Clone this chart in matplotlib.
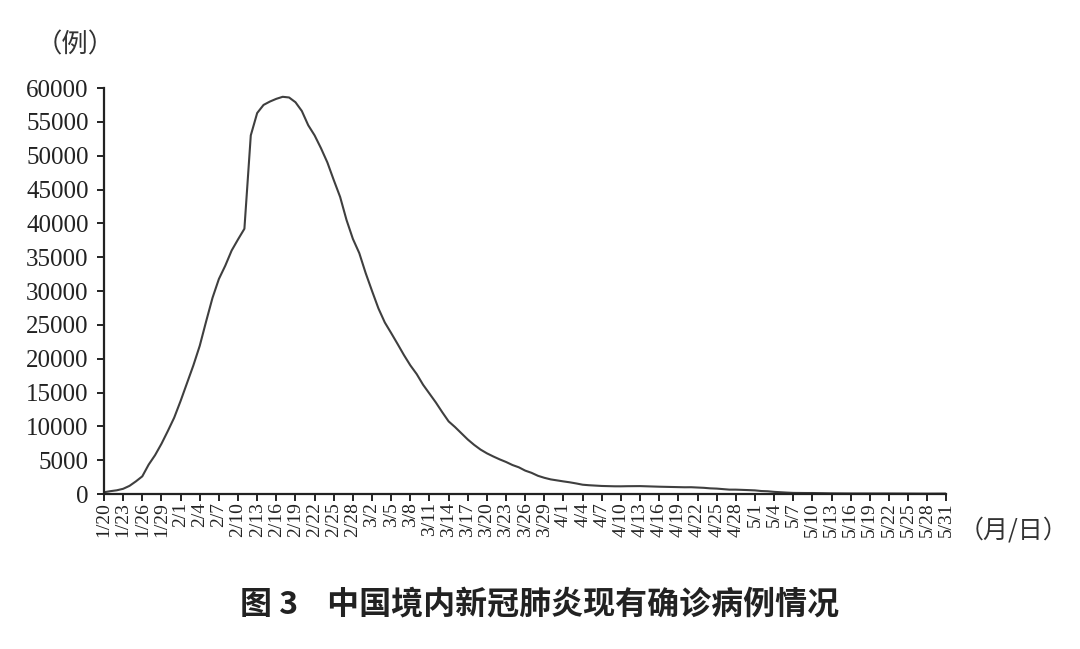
import matplotlib.pyplot as plt
import pandas as pd

# daily existing confirmed cases, 1/20 - 5/31
jan = [260, 421, 549, 771, 1208, 1870, 2613, 4349, 5739, 7417, 9308, 11289]
feb = [13748, 16369, 19000, 21900, 25500, 28985, 31774, 33738, 35982, 37626, 39200,
       53000, 56300, 57500, 58000, 58400, 58700, 58600, 57900, 56600, 54500, 53000,
       51100, 49000, 46400, 43900, 40500, 37700, 35600]
mar = [32652, 30004, 27433, 25352, 23784, 22177, 20533, 19016, 17721, 16145, 14831,
       13526, 12094, 10734, 9898, 8976, 8056, 7263, 6569, 6013, 5549, 5120, 4735,
       4287, 3947, 3460, 3128, 2691, 2396, 2161, 2004]
apr = [1863, 1727, 1562, 1376, 1299, 1242, 1190, 1160, 1141, 1138, 1156, 1156, 1170,
       1137, 1107, 1081, 1058, 1024, 1004, 997, 1005, 959, 915, 838, 801, 723, 648,
       647, 619, 577]
may = [537, 442, 406, 319, 260, 210, 166, 151, 148, 148, 128, 115, 101, 91, 86, 84,
       85, 86, 82, 85, 79, 79, 73, 76, 74, 68, 63, 57, 55, 64, 69]

cases = jan + feb + mar + apr + may
dates = pd.date_range("2020-01-20", "2020-05-31", freq="D")
date_labels = [f"{d.month}/{d.day}" for d in dates]

serif = ["Liberation Serif", "DejaVu Serif"]
cjk = ["Noto Sans CJK SC", "DejaVu Sans"]

fig = plt.figure(figsize=(10.8, 6.49), dpi=100)
ax = fig.add_axes([0.0963, 0.2388, 0.780, 0.6256])

x = list(range(len(cases)))
ax.plot(x, cases, color="#3f3f3f", linewidth=1.5, solid_joinstyle="round")

ax.set_xlim(0, len(cases) - 1)
ax.set_ylim(0, 60000)
ax.set_yticks(range(0, 60001, 5000))
ax.set_yticklabels([str(v) for v in range(0, 60001, 5000)], family=serif, fontsize=18)
ax.set_xticks(x[::3])
ax.set_xticklabels(date_labels[::3], rotation=90, family=serif, fontsize=14)

for side in ("top", "right"):
  ax.spines[side].set_visible(False)
for side in ("left", "bottom"):
  ax.spines[side].set_linewidth(1.6)
  ax.spines[side].set_color("#222222")
ax.tick_params(axis="both", direction="out", length=5, width=1.4, color="#222222",
               labelcolor="#222222")
ax.tick_params(axis="y", pad=6)
ax.tick_params(axis="x", pad=1)

fig.text(0.033, 0.93, "（例）", family=cjk, fontsize=19, color="#333333",
         ha="left", va="center")
fig.text(0.888, 0.183, "（月/日）", family=cjk, fontsize=18, color="#333333",
         ha="left", va="center")
fig.text(0.50, 0.068, "图 3    中国境内新冠肺炎现有确诊病例情况", family=cjk,
         fontsize=23, fontweight="bold", color="#222222", ha="center", va="center")

fig.savefig("out.png", dpi=100)
